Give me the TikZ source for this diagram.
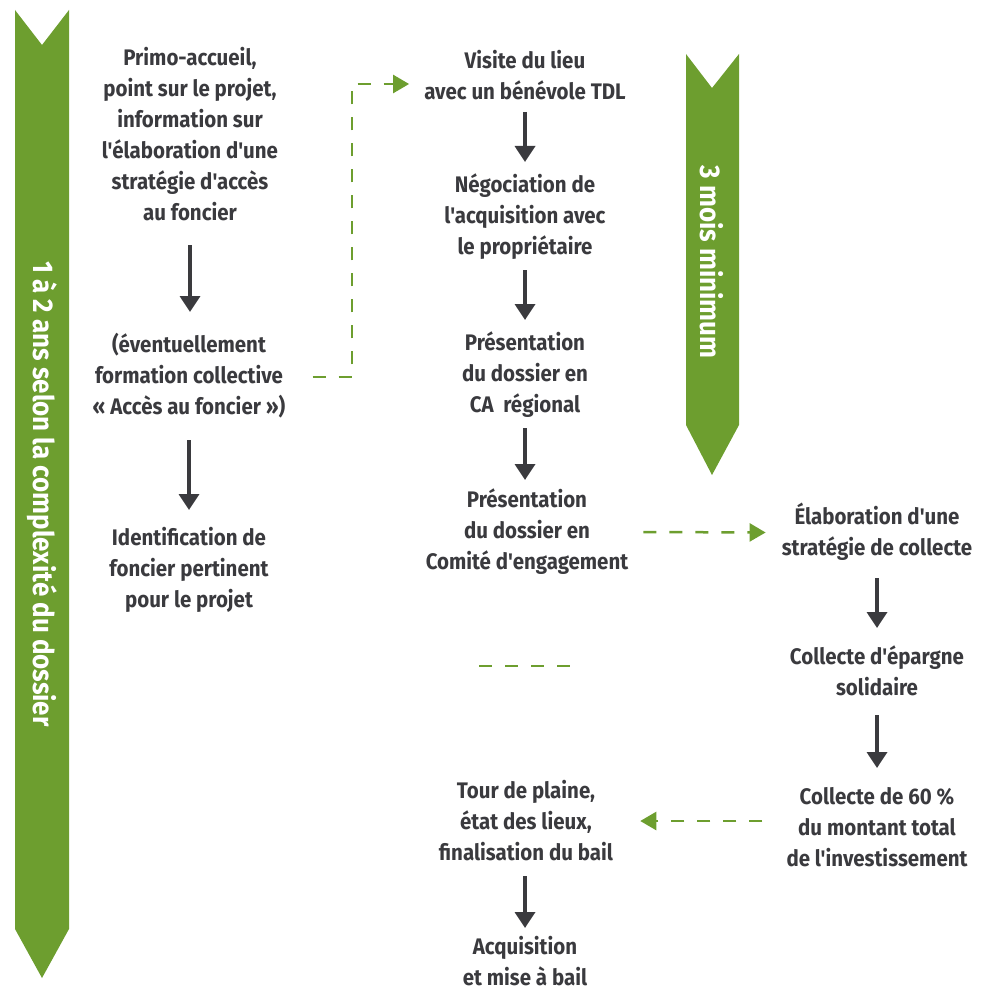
\documentclass[tikz,border=0pt]{standalone}
\usepackage{fontspec}
\setmainfont{Fira Sans}[Ligatures=TeXOff,FakeStretch=0.91]
\usetikzlibrary{arrows.meta}
\definecolor{tgreen}{RGB}{109,158,47}
\definecolor{tgray}{RGB}{58,58,62}
\begin{document}
\begin{tikzpicture}[x=1pt,y=-1pt,
  txt/.style={align=center, text=tgray, font=\bfseries\fontsize{22.5}{31}\selectfont, inner sep=0pt},
  vtxt/.style={text=white, font=\bfseries\fontsize{28.5}{31}\selectfont, rotate=-90, inner sep=0pt},
  darr/.style={draw=tgray, line width=3.5pt, -{Triangle[width=20pt 0 0,length=16pt 0 0]}},
  gdash/.style={draw=tgreen, line width=2.5pt, dash pattern=on 13pt off 13pt},
  garr/.style={gdash, -{Triangle[width=18pt 0 0,length=16pt 0 0]}},
  band/.style={fill=tgreen}
]
\useasboundingbox (0,0) rectangle (985,987);
% bands
\fill[band] (15,10) -- (42,45) -- (69,10) -- (69,929) -- (42,978) -- (15,929) -- cycle;
\node[vtxt] (bandA) at (42,494) {1 à 2 ans selon la complexité du dossier};
\fill[band] (686,54) -- (712,88) -- (739,54) -- (739,425) -- (712,475) -- (686,425) -- cycle;
\node[vtxt] (bandB) at (712,262) {3 mois minimum};
% left column
\node[txt] (primo) at (190,134.5) {Primo-accueil,\\point sur le projet,\\information sur\\l'élaboration d'une\\stratégie d'accès\\au foncier};
\node[txt] (evt) at (189,375.5) {(éventuellement\\formation collective\\«~Accès au foncier~»)};
\node[txt] (ident) at (189,570) {Identification de\\foncier pertinent\\pour le projet};
% middle column
\node[txt] (visite) at (525,75) {Visite du lieu\\avec un bénévole TDL};
\node[txt] (nego) at (525,217) {Négociation de\\l'acquisition avec\\le propriétaire};
\node[txt] (ca) at (525,374.5) {Présentation\\du dossier en\\CA~ régional};
\node[txt] (comite) at (527,531.5) {Présentation\\du dossier en\\Comité d'engagement};
\node[txt] (tour) at (526,820.5) {Tour de plaine,\\état des lieux,\\finalisation du bail};
\node[txt] (acq) at (525,961) {Acquisition\\et mise à bail};
% right column
\node[txt] (elab) at (877,532) {Élaboration d'une\\stratégie de collecte};
\node[txt] (collecte) at (877,671) {Collecte d'épargne\\solidaire};
\node[txt] (soixante) at (877,827.5) {Collecte de 60 \%\\du montant total\\de l'investissement};
% dark arrows
\draw[darr] ([yshift=-110.5pt]primo.center) -- ([yshift=63.5pt]primo.center |- evt.center);
\draw[darr] ([yshift=-64.5pt]evt.center) -- ([yshift=60pt]ident.center);
\draw[darr] ([yshift=-37pt]visite.center) -- ([yshift=55pt]nego.center);
\draw[darr] ([yshift=-53pt]nego.center) -- ([yshift=54.5pt]ca.center);
\draw[darr] ([yshift=-53.5pt]ca.center) -- ([yshift=51.5pt]ca.center |- comite.center);
\draw[darr] ([yshift=-55.5pt]acq.center |- tour.center) -- ([yshift=33pt]acq.center);
\draw[darr] ([yshift=-46pt]elab.center) -- ([yshift=43pt]collecte.center);
\draw[darr] ([yshift=-44pt]collecte.center) -- ([yshift=59.5pt]soixante.center);
% green dashed connectors
\coordinate (k1) at (352,84);
\draw[garr] ([xshift=27pt,yshift=-1.5pt]evt.east) -| (k1) -- ([xshift=-15pt]visite.west |- k1);
\draw[garr] ([xshift=15pt,yshift=-0.5pt]comite.east) -- ([xshift=-16pt,yshift=-0.5pt]elab.west);
\draw[garr] ([xshift=-24pt,yshift=6.5pt]soixante.west) -- ([xshift=27pt,yshift=-0.5pt]tour.east);
\coordinate (s1) at (479,666);
\coordinate (s2) at (571,666);
\draw[gdash] (s1) -- (s2);
\end{tikzpicture}
\end{document}
